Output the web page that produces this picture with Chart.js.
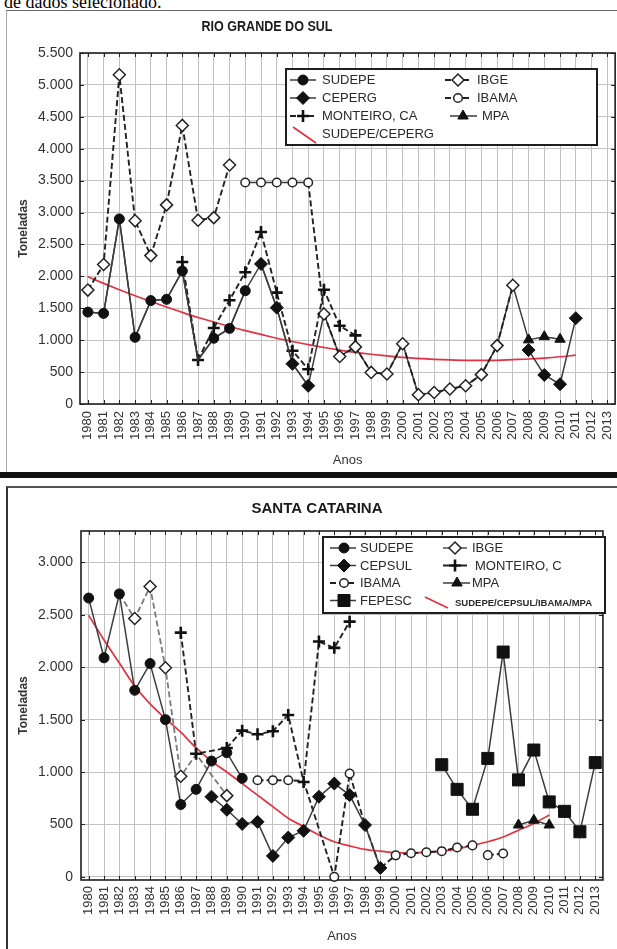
<!DOCTYPE html>
<html><head><meta charset="utf-8">
<script src="https://cdn.jsdelivr.net/npm/chart.js@4.4.1/dist/chart.umd.min.js"></script>
<style>
html,body{margin:0;padding:0;background:#fff;width:617px;height:949px;overflow:hidden;position:relative}
#cap{position:absolute;left:4px;top:-7px;font:18px/18px "Liberation Serif","Times New Roman",serif;color:#000;white-space:nowrap}
#f1{position:absolute;left:6px;top:10px;width:650px;height:462px;border-top:1px solid #666;border-left:1px solid #aaa;box-sizing:border-box}
#bar{position:absolute;left:0;top:472px;width:617px;height:6px;background:#111}
#f2{position:absolute;left:6px;top:486px;width:650px;height:480px;border-top:2px solid #555;border-left:2px solid #333;box-sizing:border-box}
#c1{position:absolute;left:0;top:12px}
#c2{position:absolute;left:0;top:488px}
</style></head>
<body>
<div id="cap">de dados selecionado.</div>
<div id="f1"></div>
<div id="bar"></div>
<div id="f2"></div>
<canvas id="c1" width="630" height="458" style="width:630px;height:458px"></canvas>
<canvas id="c2" width="617" height="461" style="width:617px;height:461px"></canvas>
<script>
const _ = null;
// ---------- categories ----------
const YEARS = ['1980','1981','1982','1983','1984','1985','1986','1987','1988','1989',
               '1990','1991','1992','1993','1994','1995','1996','1997','1998','1999',
               '2000','2001','2002','2003','2004','2005','2006','2007','2008','2009',
               '2010','2011','2012','2013'];
// ---------- tick labels ----------
const RS_Y_VALUES = [0,500,1000,1500,2000,2500,3000,3500,4000,4500,5000,5500];
const RS_Y_LABELS = ['0','500','1.000','1.500','2.000','2.500','3.000','3.500','4.000','4.500','5.000','5.500'];
const SC_Y_VALUES = [0,500,1000,1500,2000,2500,3000];
const SC_Y_LABELS = ['0','500','1.000','1.500','2.000','2.500','3.000'];

// ---------- RIO GRANDE DO SUL (t) ----------
const RS_SUDEPE = [1440,1420,2900,1045,1620,1640,2085,690,1030,1185,
                   1775,_,_,_,_,_,_,_,_,_,
                   _,_,_,_,_,_,_,_,_,_,
                   _,_,_,_];
const RS_CEPERG = [_,_,_,_,_,_,_,_,_,_,
                   _,2195,1510,630,285,_,_,_,_,_,
                   _,_,_,_,_,_,_,_,845,455,
                   310,1345,_,_];
const RS_IBGE = [1785,2185,5160,2870,2325,3120,4365,2880,2920,3745,
                 _,_,_,_,_,1410,745,895,495,470,
                 945,145,180,235,285,460,915,1860,_,_,
                 _,_,_,_];
const RS_IBAMA = [_,_,_,_,_,_,_,_,_,_,
                  3470,3470,3470,3470,3470,_,_,_,_,_,
                  _,_,_,_,_,_,_,_,_,_,
                  _,_,_,_];
const RS_MONTEIRO = [_,_,_,_,_,_,2225,690,1190,1625,
                     2065,2695,1745,835,545,1790,1225,1075,_,_,
                     _,_,_,_,_,_,_,_,_,_,
                     _,_,_,_];
const RS_MPA = [_,_,_,_,_,_,_,_,_,_,
                _,_,_,_,_,_,_,_,_,_,
                _,_,_,_,_,_,_,_,1005,1055,
                1015,_,_,_];
const RS_TREND = [1995,1890,1790,1695,1605,1520,1435,1355,1285,1215,
                  1150,1090,1030,980,930,885,845,810,780,755,
                  730,715,700,690,685,685,685,695,705,720,
                  740,765,_,_];

// ---------- SANTA CATARINA (t) ----------
const SC_SUDEPE = [2660,2090,2700,1780,2035,1500,690,835,1105,1185,
                   940,_,_,_,_,_,_,_,_,_,
                   _,_,_,_,_,_,_,_,_,_,
                   _,_,_,_];
const SC_CEPSUL = [_,_,_,_,_,_,_,_,765,640,
                   505,525,200,375,440,765,890,780,495,85,
                   _,_,_,_,_,_,_,_,_,_,
                   _,_,_,_];
const SC_IBGE = [_,_,2700,2465,2770,1995,960,1170,_,775,
                 _,_,_,_,_,_,_,_,_,_,
                 _,_,_,_,_,_,_,_,_,_,
                 _,_,_,_];
const SC_IBAMA = [_,_,_,_,_,_,_,_,_,_,
                  _,922,922,922,915,_,0,985,495,85,
                  205,225,235,245,280,300,207,223,_,_,
                  _,_,_,_];
const SC_MONTEIRO = [_,_,_,_,_,_,2330,1175,_,1230,
                     1395,1360,1390,1545,905,2245,2185,2435,_,_,
                     _,_,_,_,_,_,_,_,_,_,
                     _,_,_,_];
const SC_FEPESC = [_,_,_,_,_,_,_,_,_,_,
                   _,_,_,_,_,_,_,_,_,_,
                   _,_,_,1070,835,645,1130,2145,925,1210,
                   715,625,430,1090];
const SC_MPA = [_,_,_,_,_,_,_,_,_,_,
                _,_,_,_,_,_,_,_,_,_,
                _,_,_,_,_,_,_,_,495,540,
                495,_,_,_];
const SC_TREND = [2495,2260,2040,1820,1650,1510,1380,1230,1105,1000,
                  890,780,670,560,480,400,335,295,262,245,
                  230,228,235,245,265,300,335,380,445,510,
                  590,_,_,_];

// ---------- styles ----------
const FONT = '"Liberation Sans", Arial, Helvetica, sans-serif';
const MK = {
  circle:  {pointStyle:'circle',   radius:5,   fill:'#111', border:'#111', bw:1},
  diamond: {pointStyle:'rectRot',  radius:6.5, fill:'#111', border:'#111', bw:1},
  odiam:   {pointStyle:'rectRot',  radius:6,   fill:'#fff', border:'#222', bw:1.5},
  ocircle: {pointStyle:'circle',   radius:4.3, fill:'#fff', border:'#222', bw:1.5},
  plus:    {pointStyle:'cross',    radius:6,   fill:'#111', border:'#111', bw:2.6},
  tri:     {pointStyle:'triangle', radius:6,   fill:'#111', border:'#111', bw:1},
  square:  {pointStyle:'rect',     radius:8.5, fill:'#111', border:'#111', bw:1}
};
const LN = {
  solid:  {color:'#3c3c3c', width:1.5, dash:[]},
  dash:   {color:'#222',    width:1.9, dash:[6,3]},
  dashL:  {color:'#7a7a7a', width:1.8, dash:[6,3]},
  red:    {color:'rgb(228,48,64)', width:1.7, dash:[]}
};

function join(...parts){
  return YEARS.map((y,i)=>{ const yr=+y; for(const [arr,a,b] of parts){ if(yr>=a&&yr<=b) return arr[i]; } return null; });
}
function ds(label, data, mk, ln, extra){
  extra = extra || {};
  const hide = extra.hide || [], brk = extra.breakAfter || [];
  const d = {
    label, data,
    borderColor: ln.color, borderWidth: ln.width, borderDash: ln.dash,
    spanGaps: !!extra.span,
    pointStyle: mk ? mk.pointStyle : 'circle',
    pointRadius: c => (!mk || hide.includes(YEARS[c.dataIndex])) ? 0 : mk.radius,
    pointHoverRadius: 0,
    pointBackgroundColor: mk ? mk.fill : 'rgba(0,0,0,0)',
    pointBorderColor: mk ? mk.border : 'rgba(0,0,0,0)',
    pointBorderWidth: mk ? mk.bw : 0,
    tension: 0, fill: false, clip: false
  };
  if (extra.smooth) d.cubicInterpolationMode = 'monotone';
  if (brk.length) d.segment = {borderColor: c => brk.includes(YEARS[c.p0DataIndex]) ? 'rgba(0,0,0,0)' : undefined};
  return d;
}

function drawMarker(ctx, mk, x, y){
  const r = mk.radius;
  ctx.save(); ctx.setLineDash([]);
  ctx.fillStyle = mk.fill; ctx.strokeStyle = mk.border; ctx.lineWidth = mk.bw;
  ctx.beginPath();
  if (mk.pointStyle==='circle') ctx.arc(x,y,r,0,Math.PI*2);
  else if (mk.pointStyle==='rectRot'){ ctx.moveTo(x-r,y); ctx.lineTo(x,y-r); ctx.lineTo(x+r,y); ctx.lineTo(x,y+r); ctx.closePath(); }
  else if (mk.pointStyle==='rect'){ const s=r*Math.SQRT1_2; ctx.rect(x-s,y-s,2*s,2*s); }
  else if (mk.pointStyle==='triangle'){ let a=0; ctx.moveTo(x+Math.sin(a)*r,y-Math.cos(a)*r); a+=2*Math.PI/3; ctx.lineTo(x+Math.sin(a)*r,y-Math.cos(a)*r); a+=2*Math.PI/3; ctx.lineTo(x+Math.sin(a)*r,y-Math.cos(a)*r); ctx.closePath(); }
  else if (mk.pointStyle==='cross'){ ctx.moveTo(x-r,y); ctx.lineTo(x+r,y); ctx.moveTo(x,y-r); ctx.lineTo(x,y+r); }
  if (mk.pointStyle!=='cross') ctx.fill();
  ctx.stroke(); ctx.restore();
}

function legendPlugin(spec){
  return {id:'customLegend', afterDraw(chart){
    const ctx = chart.ctx, b = spec.box;
    ctx.save();
    ctx.fillStyle = '#fff'; ctx.fillRect(b[0],b[1],b[2]-b[0],b[3]-b[1]);
    ctx.strokeStyle = '#1e1e1e'; ctx.lineWidth = 2; ctx.setLineDash([]);
    ctx.strokeRect(b[0],b[1],b[2]-b[0],b[3]-b[1]);
    for (const it of spec.items){
      ctx.save();
      ctx.beginPath(); ctx.strokeStyle = it.ln.color; ctx.lineWidth = it.ln.width; ctx.setLineDash(it.ln.dash);
      if (it.diag){ ctx.moveTo(it.diag[0],it.diag[1]); ctx.lineTo(it.diag[2],it.diag[3]); }
      else { ctx.moveTo(it.x1,it.y); ctx.lineTo(it.x2,it.y); }
      ctx.stroke(); ctx.restore();
      if (it.mk) drawMarker(ctx, it.mk, it.px, it.y);
      ctx.fillStyle = '#2a2a2a'; ctx.textAlign='left'; ctx.textBaseline='middle';
      ctx.font = it.font || ('13px '+FONT);
      ctx.fillText(it.label, it.tx, it.y+0.5);
    }
    ctx.restore();
  }};
}
function titlePlugin(text, x, y, font, targetW){
  return {id:'fixedTitle', afterDraw(chart){
    const ctx = chart.ctx; ctx.save();
    ctx.font = font; ctx.fillStyle = '#1a1a1a'; ctx.textAlign='center'; ctx.textBaseline='middle';
    ctx.translate(x,y);
    if (targetW){ const w = ctx.measureText(text).width; ctx.scale(targetW/w,1); }
    ctx.fillText(text,0,0); ctx.restore();
  }};
}
function framePlugin(yValues){
  return {id:'frame', beforeDatasetsDraw(chart){
    const ctx = chart.ctx, a = chart.chartArea, xs = chart.scales.x, ys = chart.scales.y;
    ctx.save(); ctx.setLineDash([]);
    ctx.strokeStyle = '#222'; ctx.lineWidth = 1;
    ctx.beginPath();
    for (let i=0;i<YEARS.length;i++){ const x = Math.round(xs.getPixelForValue(i))+0.5;
      ctx.moveTo(x,a.top); ctx.lineTo(x,a.top+4); ctx.moveTo(x,a.bottom); ctx.lineTo(x,a.bottom-4); }
    for (const v of yValues){ const y = Math.round(ys.getPixelForValue(v))+0.5;
      ctx.moveTo(a.left,y); ctx.lineTo(a.left+4,y); ctx.moveTo(a.right,y); ctx.lineTo(a.right-4,y); }
    ctx.stroke();
    ctx.lineWidth = 1.6; ctx.strokeStyle = '#1e1e1e';
    ctx.strokeRect(a.left, a.top, a.right-a.left, a.bottom-a.top);
    ctx.restore();
  }};
}
function baseOptions(cfg){
  return {
    responsive:false, animation:false, devicePixelRatio:1, events:[],
    layout:{padding:{top:cfg.top,right:cfg.right,left:0,bottom:0}},
    plugins:{legend:{display:false}, tooltip:{enabled:false}, title:{display:false}},
    scales:{
      x:{type:'category', offset:true,
         grid:{color:'#c2c2c2', lineWidth:1, drawTicks:false}, border:{display:false},
         ticks:{autoSkip:false, minRotation:90, maxRotation:90, padding:cfg.xpad, color:'#333', font:{family:FONT,size:13}},
         title:{display:true, text:'Anos', color:'#333', font:{family:FONT,size:13}, padding:{top:0,bottom:cfg.anosPad}},
         afterFit(s){ s.height = cfg.xh; }},
      y:{type:'linear', min:cfg.ymin, max:cfg.ymax,
         grid:{color:'#c2c2c2', lineWidth:1, drawTicks:false}, border:{display:false},
         afterBuildTicks(s){ s.ticks = cfg.yv.map(v=>({value:v})); },
         ticks:{padding:cfg.ypad, color:'#333', font:{family:FONT,size:14}, callback:(v,i)=>cfg.yl[i]},
         title:{display:true, text:'Toneladas', color:'#333', font:{family:FONT,size:12,weight:'bold'}, padding:{top:16,bottom:0}},
         afterFit(s){ s.width = cfg.yw; }}
    }
  };
}

// ---------- chart 1: RS ----------
const rsSets = [
  ds('SUDEPE', RS_SUDEPE, MK.circle, LN.solid, {hide:['1987']}),
  ds('CEPERG', RS_CEPERG, MK.diamond, LN.solid),
  ds('MONTEIRO, CA', RS_MONTEIRO, MK.plus, LN.dash),
  ds('MPA', RS_MPA, MK.tri, LN.solid),
  ds('IBGE', RS_IBGE, MK.odiam, LN.dash),
  ds('IBAMA', RS_IBAMA, MK.ocircle, LN.solid),
  ds('', join([RS_SUDEPE,1980,1990],[RS_CEPERG,1991,1994],[RS_IBGE,1995,2007],[RS_MPA,2008,2008]), null, LN.solid),
  ds('', join([RS_IBAMA,1994,1994],[RS_IBGE,1995,1995]), null, LN.dash),
  ds('SUDEPE/CEPERG', RS_TREND, null, LN.red, {smooth:true})
];
new Chart(document.getElementById('c1'), {
  type:'line',
  data:{labels:YEARS, datasets:rsSets},
  options: baseOptions({top:41,right:9,xh:66,yw:80,xpad:7,ypad:7,anosPad:2,ymin:0,ymax:5500,yv:RS_Y_VALUES,yl:RS_Y_LABELS}),
  plugins:[framePlugin(RS_Y_VALUES), titlePlugin('RIO GRANDE DO SUL',267,15,'bold 14px '+FONT,131),
    legendPlugin({box:[286,57,597,133], items:[
      {label:'SUDEPE', y:68, x1:290,x2:316,px:303,tx:322, mk:MK.circle, ln:LN.solid},
      {label:'CEPERG', y:86, x1:290,x2:316,px:303,tx:322, mk:MK.diamond, ln:LN.solid},
      {label:'MONTEIRO, CA', y:104, x1:290,x2:316,px:303,tx:322, mk:MK.plus, ln:LN.dash},
      {label:'SUDEPE/CEPERG', y:122, diag:[293,115,316,131], tx:322, ln:LN.red},
      {label:'IBGE', y:68, x1:445,x2:470,px:458,tx:477, mk:MK.odiam, ln:LN.dash},
      {label:'IBAMA', y:86, x1:445,x2:470,px:458,tx:477, mk:MK.ocircle, ln:LN.dash},
      {label:'MPA', y:104, x1:450,x2:477,px:463,tx:482, mk:MK.tri, ln:LN.solid}
    ]})]
});

// ---------- chart 2: SC ----------
const scSets = [
  ds('SUDEPE', SC_SUDEPE, MK.circle, LN.solid),
  ds('CEPSUL', SC_CEPSUL, MK.diamond, LN.solid),
  ds('FEPESC', SC_FEPESC, MK.square, LN.solid),
  ds('MONTEIRO, C', SC_MONTEIRO, MK.plus, LN.dash, {span:true}),
  ds('MPA', SC_MPA, MK.tri, LN.solid),
  ds('IBGE', SC_IBGE, MK.odiam, LN.dashL, {span:true, hide:['1982','1987']}),
  ds('IBAMA', SC_IBAMA, MK.ocircle, LN.dash, {span:true, hide:['1994','1998','1999'], breakAfter:['2005']}),
  ds('SUDEPE/CEPSUL/IBAMA/MPA', SC_TREND, null, LN.red, {smooth:true})
];
new Chart(document.getElementById('c2'), {
  type:'line',
  data:{labels:YEARS, datasets:scSets},
  options: baseOptions({top:43,right:2,xh:69,yw:81,xpad:6,ypad:8,anosPad:4.5,ymin:-30,ymax:3300,yv:SC_Y_VALUES,yl:SC_Y_LABELS}),
  plugins:[framePlugin(SC_Y_VALUES), titlePlugin('SANTA CATARINA',317,21,'bold 14.5px '+FONT,131),
    legendPlugin({box:[323,49,605,125], items:[
      {label:'SUDEPE', y:60, x1:330,x2:356,px:344,tx:360, mk:MK.circle, ln:LN.solid},
      {label:'CEPSUL', y:77.5, x1:330,x2:356,px:344,tx:360, mk:MK.diamond, ln:LN.solid},
      {label:'IBAMA', y:95, x1:330,x2:356,px:344,tx:360, mk:MK.ocircle, ln:LN.dash},
      {label:'FEPESC', y:112.5, x1:330,x2:356,px:344,tx:360, mk:MK.square, ln:LN.solid},
      {label:'IBGE', y:60, x1:443,x2:468,px:455,tx:472, mk:MK.odiam, ln:LN.dashL},
      {label:'MONTEIRO, C', y:77.5, x1:443,x2:468,px:455,tx:475, mk:MK.plus, ln:LN.dash},
      {label:'MPA', y:95, x1:443,x2:470,px:457,tx:472, mk:MK.tri, ln:LN.solid},
      {label:'SUDEPE/CEPSUL/IBAMA/MPA', y:115, diag:[425,109,448,120], tx:455, ln:LN.red, font:'bold 9.5px '+FONT}
    ]})]
});
</script>
</body></html>
